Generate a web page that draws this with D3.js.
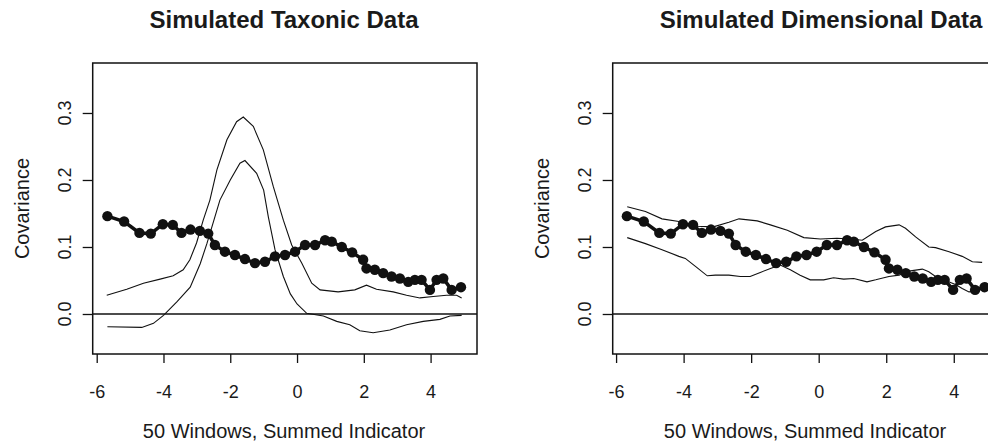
<!doctype html>
<html lang="en">
<head>
<meta charset="utf-8">
<title>Simulated Taxonic / Dimensional Data</title>
<script src="https://cdn.jsdelivr.net/npm/d3@7/dist/d3.min.js"></script>
<style>
    body { margin: 0; background: #fff; }
    svg { display: block; font-family: "Liberation Sans", Arial, sans-serif; }
    .box { fill: none; stroke: #111; stroke-width: 1.5px; }
    .tick line { stroke: #111; stroke-width: 1.3px; }
    .curve { fill: none; stroke: #111; stroke-width: 1.1px; }
    .observed { fill: none; stroke: #111; stroke-width: 3.5px; }
    .dot { fill: #111; }
</style>
</head>
<body>
<svg width="988" height="444"></svg>
<script>
// tick labels
var xTicks = [-6, -4, -2, 0, 2, 4];
var yTicks = [0, 0.1, 0.2, 0.3];

// observed covariances for the 50 windows (same curve in both panels)
var observed = [
    [-5.68, .146], [-5.18, .138], [-4.72, .121], [-4.38, .120], [-4.02, .134],
    [-3.72, .133], [-3.46, .121], [-3.19, .126], [-2.91, .124], [-2.66, .120],
    [-2.46, .103], [-2.16, .093], [-1.86, .088], [-1.56, .082], [-1.26, .076],
    [-0.96, .078], [-0.66, .086], [-0.36, .088], [-0.06, .093], [0.24, .103],
    [0.54, .103], [0.84, .110], [1.04, .108], [1.34, .100], [1.65, .092],
    [1.98, .081], [2.08, .068], [2.33, .066], [2.58, .061], [2.83, .056],
    [3.08, .053], [3.33, .048], [3.53, .051], [3.73, .051], [3.98, .036],
    [4.18, .051], [4.38, .053], [4.63, .036], [4.91, .040]
];

// simulated taxonic comparison curves
var taxonicHigh = [
    [-5.7, .028], [-5.1, .037], [-4.6, .046], [-4.1, .052], [-3.71, .057],
    [-3.41, .066], [-3.21, .081], [-3.01, .106], [-2.81, .140], [-2.61, .170],
    [-2.4, .215], [-2.1, .260], [-1.81, .287], [-1.61, .294], [-1.31, .280],
    [-1.01, .245], [-0.71, .190], [-0.41, .140], [-0.16, .103], [0.14, .076],
    [0.44, .046], [0.69, .036], [1.23, .033], [1.73, .036], [2.08, .043],
    [2.38, .037], [2.88, .033], [3.28, .028], [3.68, .024], [4.08, .026],
    [4.48, .028], [4.78, .028], [4.93, .024]
];
var taxonicLow = [
    [-5.68, -.019], [-4.65, -.020], [-4.3, -.014], [-4.0, -.002], [-3.6, .018],
    [-3.2, .040], [-2.9, .075], [-2.7, .105], [-2.46, .145], [-2.31, .170],
    [-2.0, .200], [-1.71, .225], [-1.56, .229], [-1.21, .210], [-1.0, .185],
    [-0.86, .145], [-0.66, .096], [-0.41, .056], [-0.2, .030], [0.0, .015],
    [0.29, .001], [0.79, -.003], [1.19, -.011], [1.58, -.016], [1.88, -.025],
    [2.28, -.028], [2.78, -.024], [3.28, -.016], [3.78, -.011], [4.28, -.008],
    [4.58, -.003], [4.93, -.002]
];

// simulated dimensional comparison curves
var dimensionalHigh = [
    [-5.67, .160], [-5.13, .153], [-4.64, .142], [-4.14, .138], [-3.61, .131],
    [-3.12, .130], [-2.66, .137], [-2.36, .142], [-1.82, .139], [-1.43, .133],
    [-0.93, .125], [-0.44, .114], [0.05, .112], [0.54, .113], [0.94, .112],
    [1.29, .110], [1.69, .123], [1.98, .130], [2.38, .133], [2.57, .128],
    [2.87, .115], [3.26, .100], [3.46, .099], [3.86, .093], [4.25, .086],
    [4.55, .078], [4.84, .077]
];
var dimensionalLow = [
    [-5.67, .114], [-5.13, .105], [-4.64, .096], [-4.14, .086], [-3.95, .083],
    [-3.65, .071], [-3.3, .057], [-3.06, .058], [-2.66, .058], [-2.32, .056],
    [-2.03, .056], [-1.73, .062], [-1.43, .068], [-1.14, .073], [-0.84, .066],
    [-0.55, .058], [-0.25, .051], [0.15, .051], [0.44, .054], [0.74, .052],
    [1.04, .053], [1.43, .048], [1.69, .051], [2.08, .056], [2.38, .058],
    [2.67, .064], [3.07, .067], [3.26, .063], [3.46, .056], [4.05, .044],
    [4.25, .038], [4.45, .033], [4.69, .034], [4.84, .039]
];

var panels = [
    {title: "Simulated Taxonic Data", left: 92.7, right: 477, xLim: [-6.12, 5.39],
     titleX: 284, labelX: 284, curves: [taxonicHigh, taxonicLow]},
    {title: "Simulated Dimensional Data", left: 612.7, right: 997, xLim: [-6.1, 5.28],
     titleX: 821, labelX: 805, curves: [dimensionalHigh, dimensionalLow]}
];

var plotTop = 63, plotBottom = 354;
var yLim = [-0.0597, 0.3746];
var svg = d3.select("svg");
var ink = "#1a1a1a";

panels.forEach(function(p) {
    var x = d3.scaleLinear().domain(p.xLim).range([p.left, p.right]);
    var y = d3.scaleLinear().domain(yLim).range([plotBottom, plotTop]);
    var g = svg.append("g");

    g.append("text")
        .attr("x", p.titleX).attr("y", 28)
        .attr("text-anchor", "middle")
        .style("font-size", "24px").style("font-weight", "bold")
        .attr("fill", ink)
        .text(p.title);

    // x axis
    var xg = g.append("g")
        .attr("transform", "translate(0," + plotBottom + ")")
        .call(d3.axisBottom(x)
            .tickValues(xTicks)
            .tickSize(9)
            .tickPadding(22)
            .tickFormat(function(d) { return String(d); }));
    xg.select(".domain").remove();
    xg.attr("font-family", null);
    xg.selectAll("text").style("font-size", "18px").attr("fill", ink);

    // y axis (labels rotated like R's default)
    var yg = g.append("g")
        .attr("transform", "translate(" + p.left + ",0)")
        .call(d3.axisLeft(y).tickValues(yTicks).tickSize(10).tickFormat(""));
    yg.select(".domain").remove();

    g.selectAll(".ylab")
        .data(yTicks)
        .enter().append("text")
        .attr("class", "ylab")
        .attr("transform", function(d) { return "translate(" + (p.left - 22) + "," + y(d) + ") rotate(-90)"; })
        .attr("text-anchor", "middle")
        .style("font-size", "18px")
        .attr("fill", ink)
        .text(d3.format(".1f"));

    g.append("text")
        .attr("transform", "translate(" + (p.left - 64) + "," + ((plotTop + plotBottom) / 2) + ") rotate(-90)")
        .attr("text-anchor", "middle")
        .style("font-size", "20px")
        .attr("fill", ink)
        .text("Covariance");

    g.append("text")
        .attr("x", p.labelX).attr("y", 438)
        .attr("text-anchor", "middle")
        .style("font-size", "20px")
        .attr("fill", ink)
        .text("50 Windows, Summed Indicator");

    g.append("rect")
        .attr("class", "box")
        .attr("x", p.left).attr("y", plotTop)
        .attr("width", p.right - p.left).attr("height", plotBottom - plotTop);

    g.append("line")
        .attr("x1", p.left).attr("x2", p.right)
        .attr("y1", y(0)).attr("y2", y(0))
        .attr("stroke", "#111").attr("stroke-width", 1.4);

    var line = d3.line()
        .x(function(d) { return x(d[0]); })
        .y(function(d) { return y(d[1]); });

    g.selectAll(".curve")
        .data(p.curves)
        .enter().append("path")
        .attr("class", "curve")
        .attr("d", line);

    g.append("path")
        .datum(observed)
        .attr("class", "observed")
        .attr("d", line);

    g.selectAll(".dot")
        .data(observed)
        .enter().append("circle")
        .attr("class", "dot")
        .attr("cx", function(d) { return x(d[0]); })
        .attr("cy", function(d) { return y(d[1]); })
        .attr("r", 5.2);
});
</script>
</body>
</html>
